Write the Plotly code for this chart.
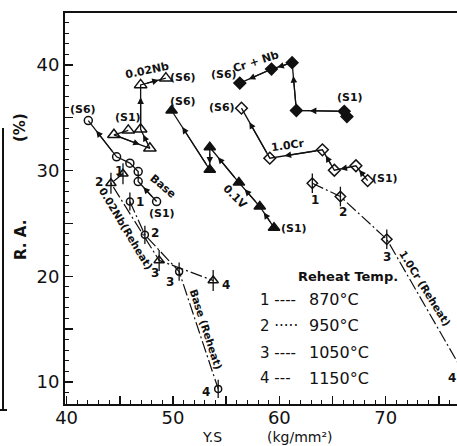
import plotly.graph_objects as go

# ---------------- data ----------------
# path order: (S1) ... -> (S6)
base_ys = [48.46, 46.73, 46.73, 45.95, 44.70, 42.04]
base_ra = [27.07, 28.96, 29.90, 30.70, 31.30, 34.73]

nb_ys = [45.80, 44.45, 47.83, 46.96, 46.96, 49.33]
nb_ra = [33.80, 33.38, 32.10, 33.90, 38.10, 38.74]

v_ys = [59.50, 58.16, 56.20, 53.46, 53.46, 49.87]
v_ra = [24.60, 26.60, 28.86, 32.20, 30.07, 35.68]

crnb_ys = [66.35, 66.10, 61.60, 61.20, 59.26, 56.28]
crnb_ra = [35.10, 35.60, 35.68, 40.20, 39.60, 38.27]

cr_ys = [68.30, 67.20, 65.17, 64.05, 59.10, 56.44]
cr_ra = [29.05, 30.45, 30.03, 31.96, 31.17, 35.90]

# reheat series, points 1..4
base_rh_ys = [45.95, 47.36, 50.58, 54.25]
base_rh_ra = [27.07, 23.92, 20.44, 9.35]

nb_rh_ys = [45.30, 44.17, 48.70, 53.78]
nb_rh_ra = [29.70, 28.80, 21.50, 19.60]

cr_rh_ys = [63.10, 65.74, 70.10, 77.70]
cr_rh_ra = [28.80, 27.54, 23.50, 10.20]

x_ticks = [40, 45, 50, 55, 60, 65, 70, 75]
x_ticktext = ["40", "", "50", "", "60", "", "70", ""]
y_ticks = [10, 15, 20, 25, 30, 35, 40]
y_ticktext = ["10", "", "20", "", "30", "", "40"]

reheat_rows = [("1 ----", "870°C"), ("2 ·····", "950°C"),
               ("3 ----", "1050°C"), ("4 ---", "1150°C")]

# ---------------- layout geometry ----------------
W, H = 457, 446
ML, MR, MT, MB = 65, 0, 13, 42
XR = [39.85, 76.7]
YR = [7.92, 44.9]
PW, PH = W - ML - MR, H - MT - MB
kx = PW / (XR[1] - XR[0])
ky = PH / (YR[1] - YR[0])

BLACK = "#111111"
FONT = "DejaVu Sans"

fig = go.Figure()


def add_series(xs, ys, symbol, size, dash="solid", bar=False, width=1.3):
    fig.add_trace(go.Scatter(
        x=xs, y=ys, mode="lines+markers",
        line=dict(color=BLACK, width=width, dash=dash),
        marker=dict(symbol=symbol, size=size, color=BLACK,
                    line=dict(color=BLACK, width=1.5)),
        showlegend=False, hoverinfo="skip"))
    if bar:
        fig.add_trace(go.Scatter(
            x=xs, y=ys, mode="markers",
            marker=dict(symbol="line-ns-open", size=size + 6, color=BLACK,
                        line=dict(color=BLACK, width=1.3)),
            showlegend=False, hoverinfo="skip"))


def add_arrows(xs, ys, frac=0.72):
    for i in range(len(xs) - 1):
        x0, y0, x1, y1 = xs[i], ys[i], xs[i + 1], ys[i + 1]
        plen = (((x1 - x0) * kx) ** 2 + ((y1 - y0) * ky) ** 2) ** 0.5
        if plen < 18:
            continue
        hx = x0 + frac * (x1 - x0)
        hy = y0 + frac * (y1 - y0)
        fig.add_annotation(x=hx, y=hy, ax=x0, ay=y0, xref="x", yref="y",
                           axref="x", ayref="y", showarrow=True, text="",
                           arrowhead=2, arrowsize=1.1, arrowwidth=1.2,
                           arrowcolor=BLACK, startstandoff=5)


add_series(base_ys, base_ra, "circle-open", 8)
add_series(nb_ys, nb_ra, "triangle-up-open", 11)
add_series(v_ys, v_ra, "triangle-up", 10)
add_series(crnb_ys, crnb_ra, "diamond", 9)
add_series(cr_ys, cr_ra, "diamond-open", 9)
for xs_, ys_ in [(base_ys, base_ra), (nb_ys, nb_ra), (v_ys, v_ra),
                 (crnb_ys, crnb_ra), (cr_ys, cr_ra)]:
    add_arrows(xs_, ys_)

RH_DASH = "12px,3px,2px,3px"
add_series(base_rh_ys, base_rh_ra, "circle-open", 7, dash=RH_DASH, bar=True, width=1.2)
add_series(nb_rh_ys, nb_rh_ra, "triangle-up-open", 9, dash=RH_DASH, bar=True, width=1.2)
add_series(cr_rh_ys, cr_rh_ra, "diamond-open", 8, dash=RH_DASH, bar=True, width=1.2)


def label(x, y, text, size=11, angle=0, bold=True, xanchor="center"):
    t = f"<b>{text}</b>" if bold else text
    fig.add_annotation(x=x, y=y, xref="x", yref="y", text=t, showarrow=False,
                       textangle=angle, xanchor=xanchor, yanchor="middle",
                       font=dict(family=FONT, size=size, color=BLACK))


# series labels
label(41.55, 35.74, "(S6)")
label(45.8, 35.06, "(S1)")
label(47.6, 39.45, "0.02Nb", angle=-12)
label(50.95, 38.77, "(S6)")
label(50.96, 36.5, "(S6)")
label(54.8, 39.05, "(S6)")
label(57.85, 40.35, "Cr + Nb", angle=-18)
label(66.68, 36.94, "(S1)")
label(54.6, 36.0, "(S6)")
label(60.8, 32.4, "1.0Cr", angle=-8)
label(69.9, 29.28, "(S1)")
label(55.8, 27.54, "0.1V", angle=45)
label(61.4, 24.55, "(S1)")
label(49.08, 28.5, "Base", angle=40)
label(48.93, 25.97, "(S1)")

# reheat labels
label(46.9, 27.07, "1", size=12)
label(44.92, 30.0, "1", size=12)
label(43.07, 28.96, "2", size=12)
label(45.62, 24.48, "0.02Nb(Reheat)", size=10.5, angle=59)
label(48.3, 24.08, "2", size=12)
label(48.3, 20.3, "3", size=12)
label(49.7, 19.5, "3", size=12)
label(54.97, 19.19, "4", size=12)
label(53.15, 14.93, "Base (Reheat)", size=10.5, angle=72)
label(53.15, 9.09, "4", size=12)
label(63.32, 27.23, "1", size=12)
label(65.98, 26.12, "2", size=12)
label(70.1, 21.8, "3", size=12)
label(73.7, 18.9, "1.0Cr (Reheat)", size=10.5, angle=58)
label(76.2, 10.39, "4", size=12)

# reheat temperature key
label(66.45, 19.95, "Reheat Temp.", size=13)
for (num, temp), yy in zip(reheat_rows, [17.77, 15.31, 12.78, 10.36]):
    label(58.0, yy, num, size=15, bold=False, xanchor="left")
    label(62.6, yy, temp, size=16, bold=False, xanchor="left")


# axis titles (as paper annotations)
def px_to_paper(px, py):
    return (px - ML) / PW, (H - MB - py) / PH


def paper_text(px, py, text, angle=0, size=15):
    xp, yp = px_to_paper(px, py)
    fig.add_annotation(x=xp, y=yp, xref="paper", yref="paper", text=text,
                       showarrow=False, textangle=angle,
                       xanchor="center", yanchor="middle",
                       font=dict(family=FONT, size=size, color=BLACK))


paper_text(21, 240, "<b>R. A.</b>", angle=-90)
paper_text(20, 128, "<b>(%)</b>", angle=-90)
paper_text(212, 437, "Y.S", size=14)
paper_text(300, 437, "(kg/mm²)", size=14)

# scan border line at far left
x0p, y0p = px_to_paper(3, 128)
x1p, y1p = px_to_paper(3, 410)
fig.add_shape(type="line", xref="paper", yref="paper", x0=x0p, y0=y0p,
              x1=x1p, y1=y1p, line=dict(color=BLACK, width=2))
x2p, _ = px_to_paper(0, 410)
x3p, _ = px_to_paper(7, 410)
fig.add_shape(type="line", xref="paper", yref="paper", x0=x2p, y0=y1p,
              x1=x3p, y1=y1p, line=dict(color=BLACK, width=2))

fig.update_layout(
    width=W, height=H,
    margin=dict(l=ML, r=MR, t=MT, b=MB, pad=0),
    paper_bgcolor="white", plot_bgcolor="white",
    showlegend=False,
    xaxis=dict(range=XR, tickvals=x_ticks, ticktext=x_ticktext,
               ticks="inside", ticklen=8, tickwidth=1.5, tickcolor=BLACK,
               minor=dict(dtick=1, tick0=40, ticks="inside", ticklen=4,
                          tickwidth=1, tickcolor=BLACK, showgrid=False),
               showline=True, linewidth=2, linecolor=BLACK, mirror=True,
               showgrid=False, zeroline=False,
               ticklabelstandoff=-4,
               tickfont=dict(family=FONT, size=18, color=BLACK)),
    yaxis=dict(range=YR, tickvals=y_ticks, ticktext=y_ticktext,
               ticks="inside", ticklen=8, tickwidth=1.5, tickcolor=BLACK,
               minor=dict(dtick=1, tick0=0, ticks="inside", ticklen=4,
                          tickwidth=1, tickcolor=BLACK, showgrid=False),
               showline=True, linewidth=2, linecolor=BLACK,
               showgrid=False, zeroline=False,
               tickfont=dict(family=FONT, size=18, color=BLACK)),
)

fig.write_html("out.html",
               config={"displayModeBar": False, "staticPlot": True},
               post_script="document.body.style.margin='0';"
                           "document.body.style.padding='0';")
